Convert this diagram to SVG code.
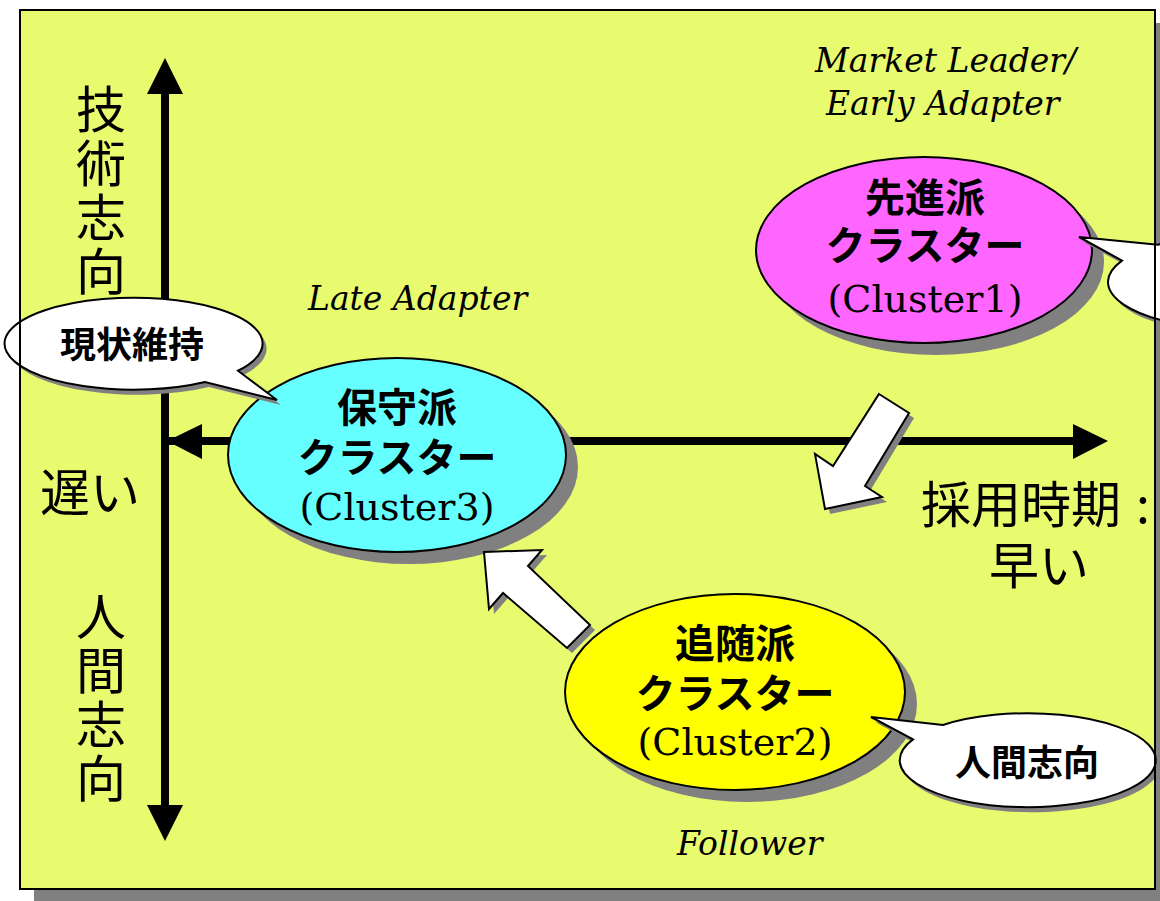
<svg xmlns="http://www.w3.org/2000/svg" width="1160" height="901" viewBox="0 0 1160 901">
<style>
.ax{font-family:"Noto Sans CJK JP","Noto Sans",sans-serif;font-size:50px;fill:#000}
.vt{font-family:"Noto Sans CJK JP","Noto Sans",sans-serif;font-size:50px;fill:#000;writing-mode:vertical-rl;text-orientation:upright;letter-spacing:4px}
.lb{font-family:"Noto Sans CJK JP","Noto Sans",sans-serif;font-weight:bold;font-size:40px;fill:#000;text-anchor:middle}
.cl{font-family:"DejaVu Serif","Liberation Serif",serif;font-size:38px;fill:#000;text-anchor:middle}
.it{font-family:"DejaVu Serif","Liberation Serif",serif;font-style:italic;font-size:33px;fill:#000}
.co{font-family:"Noto Sans CJK JP","Noto Sans",sans-serif;font-weight:bold;font-size:36px;fill:#000;text-anchor:middle}
.sh{fill:#808080}
.bub{fill:#fff;stroke:#000;stroke-width:2}
.el{stroke:#000;stroke-width:2}
.blk{fill:#fff;stroke:#000;stroke-width:2;stroke-linejoin:miter}
</style>
<rect x="34" y="23" width="1135" height="879" class="sh"/>
<rect id="background" x="20" y="10" width="1135" height="879" fill="#E8FA6E"/>

<g id="connectors">
  <line x1="165" y1="92" x2="165" y2="807" stroke="#000" stroke-width="8"/>
  <polygon points="165,58 147,94 183,94" fill="#000"/>
  <polygon points="165,841 147,805 183,805" fill="#000"/>
  <line x1="169" y1="441" x2="1075" y2="441" stroke="#000" stroke-width="8"/>
  <polygon points="167,441 202,424 202,459" fill="#000"/>
  <polygon points="1108,441 1073,424 1073,459" fill="#000"/>
</g>

<g id="axis-labels">
  <text class="vt" x="101" y="84">技術志向</text>
  <text class="vt" x="101" y="591">人間志向</text>
  <text class="ax" x="40" y="511">遅い</text>
  <text class="ax" x="921" y="523">採用時期</text><text class="ax" x="1136" y="523">:</text>
  <text class="ax" x="1039" y="584" text-anchor="middle">早い</text>
</g>

<g id="group-labels">
  <text class="it" x="815" y="72">Market Leader/</text>
  <text class="it" x="826" y="115">Early Adapter</text>
  <text class="it" x="308" y="310">Late Adapter</text>
  <text class="it" x="677" y="855">Follower</text>
</g>

<g id="cluster1">
  <ellipse cx="936" cy="262" rx="168" ry="93" class="sh"/>
  <ellipse cx="924" cy="250" rx="168" ry="93" fill="#FF66FF" class="el"/>
  <text class="lb" x="925" y="212">先進派</text>
  <text class="lb" x="925" y="260">クラスター</text>
  <text class="cl" x="925" y="312">(Cluster1)</text>
</g>

<g id="cluster3">
  <ellipse cx="409" cy="467" rx="169" ry="97" class="sh"/>
  <ellipse cx="397" cy="455" rx="169" ry="97" fill="#66FFFF" class="el"/>
  <text class="lb" x="397" y="422">保守派</text>
  <text class="lb" x="397" y="472">クラスター</text>
  <text class="cl" x="397" y="520">(Cluster3)</text>
</g>

<g id="cluster2">
  <ellipse cx="747" cy="704" rx="170" ry="98" class="sh"/>
  <ellipse cx="735" cy="692" rx="170" ry="98" fill="#FFFF00" class="el"/>
  <text class="lb" x="735" y="658">追随派</text>
  <text class="lb" x="735" y="708">クラスター</text>
  <text class="cl" x="735" y="755">(Cluster2)</text>
</g>

<g id="arrow-c1-to-c3">
  <polygon points="879,394 909,413 865,486 882,497 825,509 815,454 833,466" class="sh" transform="translate(5,5)"/>
  <polygon points="879,394 909,413 865,486 882,497 825,509 815,454 833,466" class="blk"/>
</g>

<g id="arrow-c2-to-c3">
  <polygon points="484,552 542,550 528,566 590,625 567,648 503,593 489,609" class="sh" transform="translate(5,5)"/>
  <polygon points="484,552 542,550 528,566 590,625 567,648 503,593 489,609" class="blk"/>
</g>

<g id="callout-genjou">
  <path d="M238,370.7 L277,400 L205,382 A129 46 0 1 1 238,370.7 Z" class="sh" transform="translate(4,5)"/>
  <path d="M238,370.7 L277,400 L205,382 A129 46 0 1 1 238,370.7 Z" class="bub"/>
  <text class="co" x="132" y="358">現状維持</text>
</g>

<g id="callout-ningen">
  <path d="M943,725 L871,717 L913,739.4 A128 47 0 1 0 943,725 Z" class="sh" transform="translate(4,5)"/>
  <path d="M943,725 L871,717 L913,739.4 A128 47 0 1 0 943,725 Z" class="bub"/>
  <text class="co" x="1027" y="776">人間志向</text>
</g>

<g id="callout-cluster1">
  <path d="M1158,244.7 L1079,237 L1122,260.6 A128 47 0 1 0 1158,244.7 Z" class="sh" transform="translate(4,5)"/>
  <path d="M1158,244.7 L1079,237 L1122,260.6 A128 47 0 1 0 1158,244.7 Z" class="bub"/>
</g>

<rect x="20" y="10" width="1135" height="879" fill="none" stroke="#000" stroke-width="2"/>
</svg>
